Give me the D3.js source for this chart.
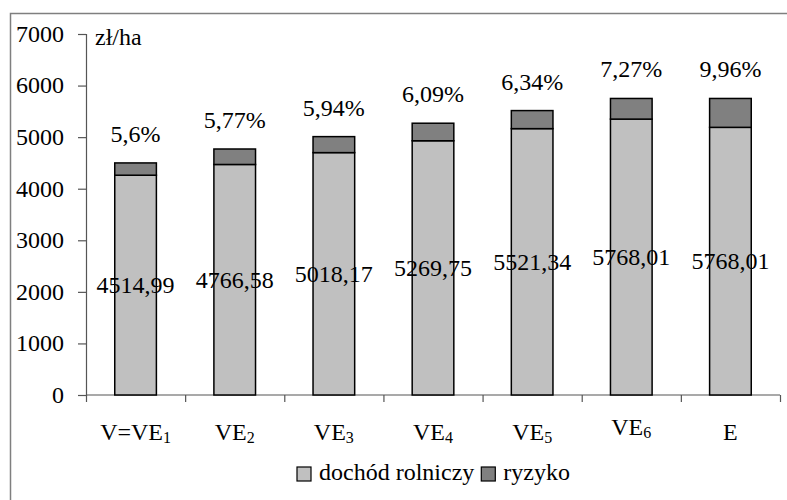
<!DOCTYPE html>
<html>
<head>
<meta charset="utf-8">
<script src="https://cdn.jsdelivr.net/npm/d3@7/dist/d3.min.js"></script>
<style>
  body { margin: 0; background: #fff; }
</style>
</head>
<body>
<div id="vis"></div>
<script>
// data
const catBase = ['V=VE', 'VE', 'VE', 'VE', 'VE', 'VE', 'E'];
const catSub = ['1', '2', '3', '4', '5', '6', ''];
const dochod = [4262, 4470, 4700, 4930, 5165, 5350, 5190];
const ryzyko = [238, 300, 310, 340, 350, 400, 560];
const totals = [4514.99, 4766.58, 5018.17, 5269.75, 5521.34, 5768.01, 5768.01];
const shares = [5.6, 5.77, 5.94, 6.09, 6.34, 7.27, 9.96];
const yTicks = [0, 1000, 2000, 3000, 4000, 5000, 6000, 7000];
const seriesNames = ['dochód rolniczy', 'ryzyko'];
const seriesColors = ['#c0c0c0', '#808080'];

const W = 787, H = 500;
const margin = {top: 34, right: 7, bottom: 105, left: 86};
const width = W - margin.left - margin.right;
const height = H - margin.top - margin.bottom;
const FONT = 'Liberation Serif';
const fontSize = 24;
const subSize = 16;

const svg = d3.select('#vis')
  .append('svg')
  .attr('width', W)
  .attr('height', H);

// outer frame (only top and left edge visible)
svg.append('rect')
  .attr('x', 10.5).attr('y', 13.5)
  .attr('width', W + 10).attr('height', H + 10)
  .attr('fill', 'none')
  .attr('stroke', '#7f7f7f')
  .attr('stroke-width', 1.5);

const g = svg.append('g')
  .attr('transform', 'translate(' + margin.left + ',' + margin.top + ')');

const idx = d3.range(catBase.length);
const x = d3.scaleBand()
  .domain(idx)
  .range([0, width])
  .paddingInner(0.58)
  .paddingOuter(0.29);

const y = d3.scaleLinear()
  .domain([0, 7000])
  .range([height, 0]);

const comma = (v) => String(v).replace('.', ',');

// y axis: lines from d3, labels drawn as plain text
const yAxis = g.append('g')
  .call(d3.axisLeft(y).tickValues(yTicks).tickSize(8).tickFormat(''));
yAxis.select('.domain').attr('stroke', '#555').attr('stroke-width', 1.2);
yAxis.selectAll('.tick line').attr('stroke', '#555').attr('stroke-width', 1.2);
g.selectAll('text.ytick')
  .data(yTicks)
  .enter()
  .append('text')
  .attr('class', 'ytick')
  .attr('x', -22)
  .attr('y', (d) => y(d))
  .attr('dy', '0.33em')
  .attr('text-anchor', 'end')
  .attr('font-family', FONT)
  .attr('font-size', fontSize)
  .text((d) => d);

// x axis, ticks between categories
const xEdge = d3.scaleLinear().domain([0, catBase.length]).range([0, width]);
const xAxis = g.append('g')
  .attr('transform', 'translate(0,' + height + ')')
  .call(d3.axisBottom(xEdge).ticks(catBase.length).tickSize(7).tickFormat(''));
xAxis.select('.domain').attr('stroke', '#555').attr('stroke-width', 1.2)
  .attr('d', 'M0,0H' + width);
xAxis.selectAll('.tick line').attr('stroke', '#555').attr('stroke-width', 1.2);

// stacked bars
const stackData = idx.map((i) => ({i: i, dochod: dochod[i], ryzyko: ryzyko[i]}));
const stack = d3.stack().keys(['dochod', 'ryzyko']);
const layers = stack(stackData);

g.selectAll('g.layer')
  .data(layers)
  .enter()
  .append('g')
  .attr('class', 'layer')
  .attr('fill', (d, k) => seriesColors[k])
  .selectAll('rect')
  .data((d) => d)
  .enter()
  .append('rect')
  .attr('x', (d) => x(d.data.i))
  .attr('y', (d) => y(d[1]))
  .attr('width', x.bandwidth())
  .attr('height', (d) => y(d[0]) - y(d[1]))
  .attr('stroke', '#000')
  .attr('stroke-width', 1.5);

// total labels in the middle of the lower segment
g.selectAll('text.total')
  .data(idx)
  .enter()
  .append('text')
  .attr('class', 'total')
  .attr('x', (i) => x(i) + x.bandwidth() / 2)
  .attr('y', (i) => y(dochod[i] / 2) + 8)
  .attr('text-anchor', 'middle')
  .attr('font-family', FONT)
  .attr('font-size', fontSize)
  .text((i) => comma(totals[i].toFixed(2)));

// share labels above bars
g.selectAll('text.share')
  .data(idx)
  .enter()
  .append('text')
  .attr('class', 'share')
  .attr('x', (i) => x(i) + x.bandwidth() / 2)
  .attr('y', (i) => y(dochod[i] + ryzyko[i]) - 21)
  .attr('text-anchor', 'middle')
  .attr('font-family', FONT)
  .attr('font-size', fontSize)
  .text((i) => comma(shares[i]) + '%');

// category labels with subscripts
const cat = g.selectAll('text.cat')
  .data(idx)
  .enter()
  .append('text')
  .attr('class', 'cat')
  .attr('x', (i) => x(i) + x.bandwidth() / 2)
  .attr('y', (i) => height + (i === 5 ? 40 : 45))
  .attr('text-anchor', 'middle')
  .attr('font-family', FONT)
  .attr('font-size', fontSize);
cat.append('tspan').text((i) => catBase[i]);
cat.append('tspan')
  .attr('dy', 3)
  .attr('font-size', subSize)
  .text((i) => catSub[i]);

// unit
g.append('text')
  .attr('x', 9)
  .attr('y', 11)
  .attr('font-family', FONT)
  .attr('font-size', fontSize)
  .text('zł/ha');

// legend
const legend = svg.append('g').attr('transform', 'translate(297,467)');
let lx = 0;
seriesNames.forEach((name, k) => {
  legend.append('rect')
    .attr('x', lx).attr('y', 0)
    .attr('width', 14).attr('height', 14)
    .attr('fill', seriesColors[k])
    .attr('stroke', '#000')
    .attr('stroke-width', 1.2);
  const t = legend.append('text')
    .attr('x', lx + 22)
    .attr('y', 13)
    .attr('font-family', FONT)
    .attr('font-size', fontSize)
    .text(name);
  lx += 22 + t.node().getComputedTextLength() + 7;
});
</script>
</body>
</html>
